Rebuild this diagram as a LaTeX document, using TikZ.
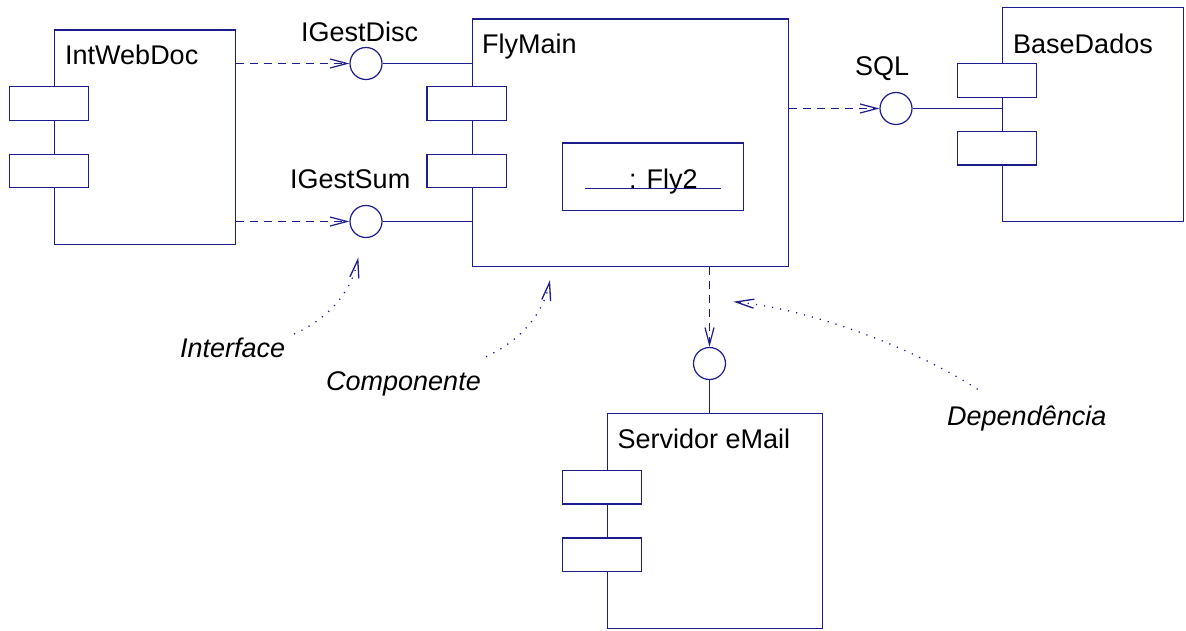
\documentclass[tikz,border=0pt]{standalone}
\usepackage{fontspec}
\setmainfont{Liberation Sans}
\usetikzlibrary{arrows.meta}
\definecolor{umlblue}{RGB}{28,28,140}
\begin{document}
\begin{tikzpicture}[x=1pt,y=-1pt,
  comp/.style={draw=umlblue, line width=1.2pt, fill=white, inner sep=0pt, rectangle},
  port/.style={comp, minimum width=79.4pt, minimum height=33.6pt},
  iface/.style={draw=umlblue, line width=1.2pt, fill=white, circle, minimum size=32pt, inner sep=0pt},
  lbl/.style={anchor=base west, inner sep=0pt, text=black, font=\fontsize{27}{32}\selectfont},
  note/.style={lbl, font=\fontsize{27}{32}\selectfont\itshape},
  link/.style={draw=umlblue, line width=1.2pt},
  dep/.style={link, dash pattern=on 8pt off 6pt, -{Straight Barb[length=17pt,width=9pt]}},
  hint/.style={link, line width=1.3pt, dash pattern=on 1.2pt off 7pt, -{Straight Barb[length=18pt,width=9pt]}},
]
\useasboundingbox (0,0) rectangle (1186,630);

% component bodies
\node[comp, minimum width=181pt, minimum height=214.3pt] (iw) at (144.8,137.2) {};
\node[comp, minimum width=316pt, minimum height=247.7pt] (fm) at (630.3,142.8) {};
\node[comp, minimum width=181pt, minimum height=214.4pt] (bd) at (1092.8,114.5) {};
\node[comp, minimum width=215pt, minimum height=214.6pt] (se) at (715.2,521) {};

% component ports
\node[port] (iwp1) at (49,103.3) {};
\node[port] (iwp2) at (49,171) {};
\node[port] (fmp1) at (466.7,103.3) {};
\node[port] (fmp2) at (466.7,171) {};
\node[port] (bdp1) at (996.8,80.5) {};
\node[port] (bdp2) at (996.8,148.2) {};
\node[port] (sep1) at (602,487.2) {};
\node[port] (sep2) at (602,554.7) {};

% inner part of FlyMain
\node[comp, minimum width=181pt, minimum height=67.7pt] (fly) at (652.8,176.8) {};
\node[lbl] (flyl) at (629,188) {: Fly2};
\draw[link, line width=1pt] ([xshift=-67.5pt]fly.center |- flyl.base) -- ([xshift=67.9pt]fly.center |- flyl.base);

% interfaces
\node[iface] (igd) at (366,63.5) {};
\node[iface] (igs) at (366,221.5) {};
\node[iface] (sql) at (896,108.5) {};
\node[iface] (em)  at (709.5,363.5) {};

% names
\node[lbl] at (65,64) {IntWebDoc};
\node[lbl] at (482,53) {FlyMain};
\node[lbl] at (1013,53) {BaseDados};
\node[lbl] at (617.5,448) {Servidor eMail};
\node[lbl] at (301,41) {IGestDisc};
\node[lbl] at (290,188) {IGestSum};
\node[lbl] at (855,75) {SQL};

% dependencies and realisations
\draw[dep] (iw.east |- igd.west) -- (igd.west);
\draw[link] (igd.east) -- (fm.west |- igd.east);
\draw[dep] (iw.east |- igs.west) -- (igs.west);
\draw[link] (igs.east) -- (fm.west |- igs.east);
\draw[dep] (fm.east |- sql.west) -- (sql.west);
\draw[link] (sql.east) -- (bd.west |- sql.east);
\draw[dep] (em.north |- fm.south) -- (em.north);
\draw[link] (em.south) -- (em.south |- se.north);

% annotations
\node[note] (nif) at (180,357) {Interface};
\node[note] (nco) at (326,390) {Componente};
\node[note] (nde) at (947,425) {Dependência};
\coordinate (nif-a) at (294,334);
\coordinate (nif-b) at (358.3,257.3);
\coordinate (nco-a) at (486,356.7);
\coordinate (nco-b) at (550,280);
\coordinate (nde-a) at (977.7,389.3);
\coordinate (nde-b) at (733.3,301.7);
\draw[hint] (nif-a) .. controls (330,318) and (352,290) .. (nif-b);
\draw[hint] (nco-a) .. controls (522,340) and (544,312) .. (nco-b);
\draw[hint] (nde-a) .. controls (900,340) and (800,308) .. (nde-b);
\end{tikzpicture}
\end{document}
